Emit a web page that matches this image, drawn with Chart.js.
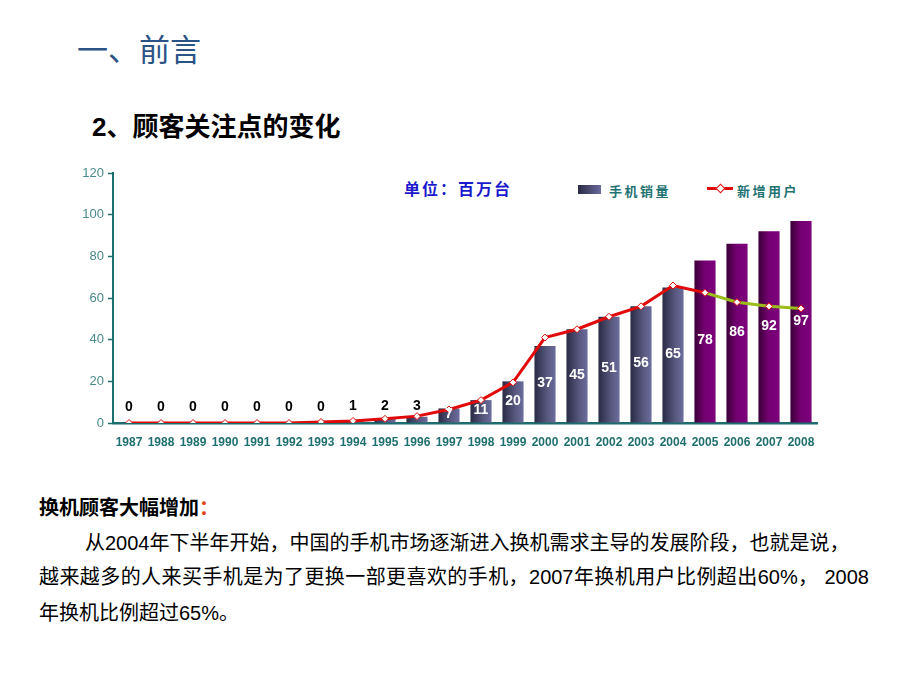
<!DOCTYPE html>
<html>
<head>
<meta charset="utf-8">
<script src="https://cdn.jsdelivr.net/npm/chart.js@4/dist/chart.umd.min.js"></script>
<style>
    body { margin: 0; background: #fff; width: 920px; height: 690px; position: relative; overflow: hidden;
           font-family: "Liberation Sans", "Noto Sans CJK SC", sans-serif; }
    .abs { position: absolute; white-space: nowrap; }
    #title { left: 77px; top: 28px; font-size: 31px; line-height: 40px; color: #2c5386; font-family: "Noto Sans CJK SC", sans-serif; }
    #subtitle { left: 92px; top: 110px; font-size: 26px; line-height: 34px; font-weight: bold; color: #000; }
    #unit { left: 404px; top: 177px; font-size: 16px; line-height: 22px; font-weight: bold; color: #1a1acc; letter-spacing: 2px; font-family: "Noto Sans CJK SC", sans-serif; }
    .legText { font-size: 13px; line-height: 18px; color: #1f7373; font-weight: bold; letter-spacing: 2.5px; font-family: "Noto Sans CJK SC", sans-serif; }
    #swatch { left: 578px; top: 185px; width: 23px; height: 9px; background: linear-gradient(90deg, #2a2a45, #6b6b9e); }
    #legLine { left: 707px; top: 187px; width: 26px; height: 3px; background: #e00a0a; }
    #legDot { left: 717px; top: 185px; width: 5px; height: 5px; background: #fff; border: 1px solid #e00a0a; transform: rotate(45deg); }
    #chartBox { position: absolute; left: 0; top: 150px; width: 920px; height: 320px; }
    .para { position: absolute; font-size: 20px; line-height: 34px; color: #000; white-space: nowrap; }
    .just { text-align: justify; text-align-last: justify; }
</style>
</head>
<body>
<div id="title" class="abs">一、前言</div>
<div id="subtitle" class="abs">2、顾客关注点的变化</div>
<div id="unit" class="abs">单位：百万台</div>
<div id="swatch" class="abs"></div>
<div class="abs legText" style="left:609px; top:182px;">手机销量</div>
<div id="legLine" class="abs"></div>
<div id="legDot" class="abs"></div>
<div class="abs legText" style="left:737px; top:182px;">新增用户</div>

<div id="chartBox"><canvas id="salesChart" width="920" height="320"></canvas></div>

<div class="para" style="left:39px; top:491px; font-weight:bold;">换机顾客大幅增加<span style="color:#e04418;">：</span></div>
<div class="para just" style="left:85px; top:526px; width:764px;">从2004年下半年开始，中国的手机市场逐渐进入换机需求主导的发展阶段，也就是说，</div>
<div class="para just" style="left:39px; top:560px; width:830px;">越来越多的人来买手机是为了更换一部更喜欢的手机，2007年换机用户比例超出60%， 2008</div>
<div class="para" style="left:39px; top:596px;">年换机比例超过65%。</div>

<script>
const years = ["1987", "1988", "1989", "1990", "1991", "1992", "1993", "1994", "1995", "1996", "1997",
    "1998", "1999", "2000", "2001", "2002", "2003", "2004", "2005", "2006", "2007", "2008"];
const phoneSales = [0, 0, 0, 0, 0, 0, 0, 1, 2, 3, 7, 11, 20, 37, 45, 51, 56, 65, 78, 86, 92, 97];
const newUsers = [0, 0, 0, 0, 0, 0, 0.5, 1, 2, 3.3, 6.5, 11, 19.5, 41, 45, 51, 56, 66, 62.5, 58, 56, 55];
const yTicks = [0, 20, 40, 60, 80, 100, 120];
const forecastFrom = 18; // 2005 onwards drawn purple / green

document.addEventListener("DOMContentLoaded", function () {
    const ctx = document.getElementById("salesChart").getContext("2d");
    const barPct = 0.66;
    const red = "#e00a0a";
    const green = "#9bbd1c";

    function barFill(context) {
        const chart = context.chart;
        const xScale = chart.scales && chart.scales.x;
        const idx = context.dataIndex;
        const future = idx >= forecastFrom;
        const flat = future ? "#700068" : "#4a4a70";
        if (!xScale || idx === undefined) return flat;
        const cx = xScale.getPixelForValue(idx);
        const half = (xScale.width / years.length) * barPct / 2;
        if (!Number.isFinite(cx) || !Number.isFinite(half) || half <= 0) return flat;
        const g = chart.ctx.createLinearGradient(cx - half, 0, cx + half, 0);
        if (future) {
            g.addColorStop(0, "#3a0034");
            g.addColorStop(0.45, "#720070");
            g.addColorStop(1, "#7e007c");
        } else {
            g.addColorStop(0, "#2a2a44");
            g.addColorStop(0.6, "#58587f");
            g.addColorStop(1, "#6c6c9e");
        }
        return g;
    }

    const valueLabels = {
        id: "valueLabels",
        afterDatasetsDraw(chart) {
            const meta = chart.getDatasetMeta(1);
            const c = chart.ctx;
            c.save();
            c.textAlign = "center";
            c.textBaseline = "middle";
            c.font = "bold 14px 'Liberation Sans', Arial, sans-serif";
            meta.data.forEach((bar, i) => {
                const v = phoneSales[i];
                if (v >= 7) {
                    c.fillStyle = "#ffffff";
                    c.fillText(String(v), bar.x, (bar.y + bar.base) / 2 - 1);
                } else {
                    c.fillStyle = "#000000";
                    c.fillText(String(v), bar.x, bar.base - 16);
                }
            });
            c.restore();
        }
    };

    new Chart(ctx, {
        type: "bar",
        data: {
            labels: years,
            datasets: [{
                type: "line",
                label: "新增用户",
                data: newUsers,
                order: 0,
                borderColor: red,
                borderWidth: 3,
                tension: 0,
                segment: {
                    borderColor: c => c.p0DataIndex >= forecastFrom ? green : red
                },
                pointStyle: "rectRot",
                pointRadius: 3.5,
                pointBackgroundColor: "#ffffff",
                pointBorderColor: red,
                pointBorderWidth: 1
            }, {
                label: "手机销量",
                data: phoneSales,
                order: 1,
                backgroundColor: barFill,
                barPercentage: barPct,
                categoryPercentage: 1
            }]
        },
        options: {
            responsive: false,
            animation: false,
            layout: { padding: { top: 23, right: 103, left: 0, bottom: 0 } },
            plugins: { legend: { display: false }, tooltip: { enabled: false } },
            scales: {
                x: {
                    grid: { display: false },
                    border: { color: "#1c6e6e", width: 2.5 },
                    ticks: {
                        autoSkip: false,
                        maxRotation: 0,
                        padding: 4,
                        color: "#1f6f6f",
                        font: { family: "'Liberation Sans', Arial, sans-serif", size: 12, weight: "bold" }
                    },
                    afterFit(scale) { scale.height = 47; }
                },
                y: {
                    min: 0,
                    max: 120,
                    afterBuildTicks(scale) { scale.ticks = yTicks.map(v => ({ value: v })); },
                    grid: { drawOnChartArea: false, tickLength: 5, tickColor: "#1c6e6e", tickWidth: 1.5 },
                    border: { color: "#1c6e6e", width: 2 },
                    ticks: {
                        padding: 4,
                        color: "#4a8a8c",
                        font: { family: "'Liberation Sans', Arial, sans-serif", size: 13 }
                    },
                    afterFit(scale) { scale.width = 113; }
                }
            }
        },
        plugins: [valueLabels]
    });
});
</script>
</body>
</html>
